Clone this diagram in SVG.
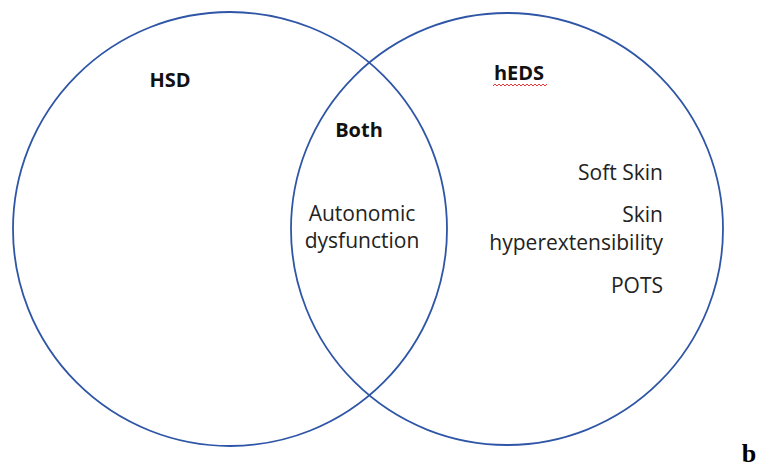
<svg xmlns="http://www.w3.org/2000/svg" width="759" height="467" viewBox="0 0 759 467">
<style>
.c{fill:none;stroke:#2F56A6;stroke-width:1.8}
.t{font-family:"Open Sans","Noto Sans",sans-serif;font-size:21px;fill:#222}
.b{font-weight:bold;fill:#111;font-size:20px}
</style>
<rect width="759" height="467" fill="#fff"/>
<g id="hsd">
<circle class="c" cx="230" cy="229" r="217"/>
<text class="t b" x="170" y="87" text-anchor="middle">HSD</text>
</g>
<g id="heds">
<circle class="c" cx="507" cy="229" r="216"/>
<text class="t b" x="519" y="80" text-anchor="middle">hEDS</text>
<path d="M493,86 l2,-2 l2,2 l2,-2 l2,2 l2,-2 l2,2 l2,-2 l2,2 l2,-2 l2,2 l2,-2 l2,2 l2,-2 l2,2 l2,-2 l2,2 l2,-2 l2,2 l2,-2 l2,2 l2,-2 l2,2 l2,-2 l2,2 l2,-2 l2,2 l2,-2" fill="none" stroke="#e53935" stroke-width="1"/>
<text class="t" x="663" y="180" text-anchor="end">Soft Skin</text>
<text class="t" x="663" y="222" text-anchor="end">Skin</text>
<text class="t" x="663" y="250" text-anchor="end">hyperextensibility</text>
<text class="t" x="663" y="293" text-anchor="end">POTS</text>
</g>
<g id="both">
<text class="t b" x="359" y="137" text-anchor="middle">Both</text>
<text class="t" x="362" y="221" text-anchor="middle">Autonomic</text>
<text class="t" x="362" y="248" text-anchor="middle">dysfunction</text>
</g>
<g id="connectors"></g>
<text x="749" y="462" text-anchor="middle" font-family="Liberation Serif,serif" font-weight="bold" font-size="26" fill="#000">b</text>
</svg>
